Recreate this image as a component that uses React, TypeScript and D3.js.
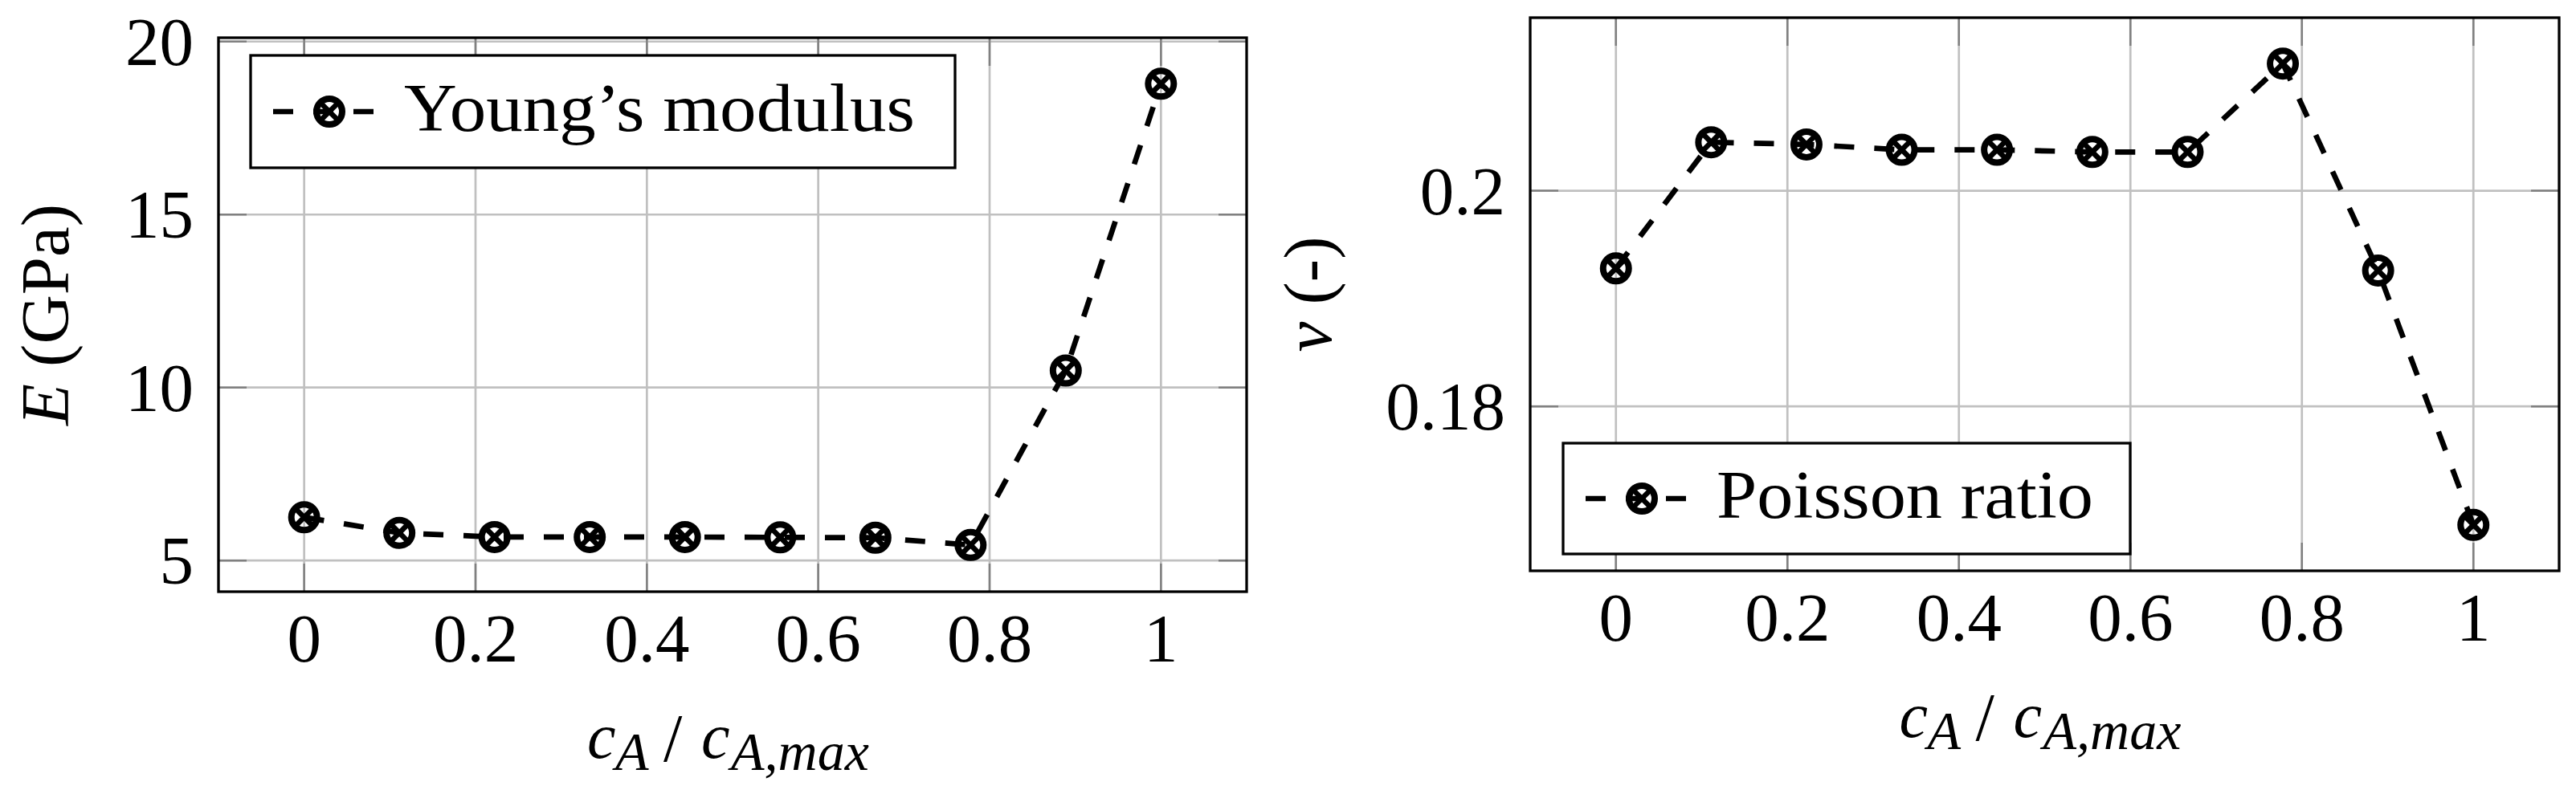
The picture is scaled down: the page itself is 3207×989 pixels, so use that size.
import React from "react";
import * as d3 from "d3";

// ---- data ----
const xValues = [0, 0.1111, 0.2222, 0.3333, 0.4444, 0.5556, 0.6667, 0.7778, 0.8889, 1];
const youngValues = [6.25, 5.8, 5.68, 5.68, 5.68, 5.67, 5.66, 5.45, 10.49, 18.78];
const poissonValues = [0.1928, 0.2045, 0.2043, 0.2038, 0.2038, 0.2036, 0.2036, 0.2118, 0.1926, 0.169];
const xTicks = [0, 0.2, 0.4, 0.6, 0.8, 1];
const xTickLabels = ["0", "0.2", "0.4", "0.6", "0.8", "1"];
const youngTicks = [5, 10, 15, 20];
const youngTickLabels = ["5", "10", "15", "20"];
const poissonTicks = [0.18, 0.2];
const poissonTickLabels = ["0.18", "0.2"];

const FONT = "'Liberation Serif', 'DejaVu Serif', serif";
const FS = 85;

function Marker({ cx, cy }: { cx: number; cy: number }) {
  const r = 16;
  const a = r * 0.7071;
  return (
    <g>
      <circle cx={cx} cy={cy} r={r} fill="none" stroke="#000" strokeWidth={8} />
      <line x1={cx - a} y1={cy - a} x2={cx + a} y2={cy + a} stroke="#000" strokeWidth={6.5} />
      <line x1={cx - a} y1={cy + a} x2={cx + a} y2={cy - a} stroke="#000" strokeWidth={6.5} />
    </g>
  );
}

function XLabel({ cx, y }: { cx: number; y: number }) {
  const common = { fontFamily: FONT, fontStyle: "italic" as const };
  return (
    <g>
      <text x={cx - 181} y={y} fontSize={80} {...common}>c</text>
      <text x={cx - 146} y={y + 15} fontSize={68} {...common}>A</text>
      <text x={cx - 86} y={y + 4} fontSize={84} fontFamily={FONT}>/</text>
      <text x={cx - 39} y={y} fontSize={80} {...common}>c</text>
      <text x={cx - 2} y={y + 15} fontSize={68} {...common}>A,max</text>
    </g>
  );
}

type PanelProps = {
  x0: number; x1: number; y0: number; y1: number;
  yDomain: [number, number];
  values: number[];
  yTicks: number[];
  yTickLabels: string[];
  yLabel: React.ReactNode;
  yLabelOffset: number;
  legendText: string;
  legendTextWidth: number;
  legendBox: { x: number; y: number; w: number; h: number };
};

function Panel(p: PanelProps) {
  const xs = d3.scaleLinear().domain([-0.1, 1.1]).range([p.x0, p.x1]);
  const ys = d3.scaleLinear().domain(p.yDomain).range([p.y1, p.y0]);
  const pts = xValues.map((x, i) => [xs(x), ys(p.values[i])] as [number, number]);
  const line = d3.line()(pts) || "";
  const tickLen = 35;
  const grid = "#c0c0c0";
  const tickC = "#808080";
  const lb = p.legendBox;
  const ly = lb.y + lb.h / 2;
  const cx = (p.x0 + p.x1) / 2;
  const cy = (p.y0 + p.y1) / 2;
  return (
    <g>
      {xTicks.map((t) => (
        <line key={"gx" + t} x1={xs(t)} x2={xs(t)} y1={p.y0} y2={p.y1} stroke={grid} strokeWidth={2.7} />
      ))}
      {p.yTicks.map((t) => (
        <line key={"gy" + t} x1={p.x0} x2={p.x1} y1={ys(t)} y2={ys(t)} stroke={grid} strokeWidth={2.7} />
      ))}
      {xTicks.map((t) => (
        <g key={"tx" + t}>
          <line x1={xs(t)} x2={xs(t)} y1={p.y1} y2={p.y1 - tickLen} stroke={tickC} strokeWidth={2.5} />
          <line x1={xs(t)} x2={xs(t)} y1={p.y0} y2={p.y0 + tickLen} stroke={tickC} strokeWidth={2.5} />
        </g>
      ))}
      {p.yTicks.map((t) => (
        <g key={"ty" + t}>
          <line x1={p.x0} x2={p.x0 + tickLen} y1={ys(t)} y2={ys(t)} stroke={tickC} strokeWidth={2.5} />
          <line x1={p.x1} x2={p.x1 - tickLen} y1={ys(t)} y2={ys(t)} stroke={tickC} strokeWidth={2.5} />
        </g>
      ))}
      <path d={line} fill="none" stroke="#000" strokeWidth={6.7} strokeDasharray="25 25" />
      {pts.map((pt, i) => (
        <Marker key={"m" + i} cx={pt[0]} cy={pt[1]} />
      ))}
      <rect x={p.x0} y={p.y0} width={p.x1 - p.x0} height={p.y1 - p.y0} fill="none" stroke="#000" strokeWidth={3.3} />
      {xTicks.map((t, i) => (
        <text key={"xl" + t} x={xs(t)} y={p.y1 + 87} textAnchor="middle" fontFamily={FONT} fontSize={FS}>
          {xTickLabels[i]}
        </text>
      ))}
      {p.yTicks.map((t, i) => (
        <text key={"yl" + t} x={p.x0 - 31} y={ys(t) + 29} textAnchor="end" fontFamily={FONT} fontSize={FS}>
          {p.yTickLabels[i]}
        </text>
      ))}
      <XLabel cx={cx} y={p.y1 + 207} />
      <text transform={`translate(${p.x0 - p.yLabelOffset},${cy}) rotate(-90)`} textAnchor="middle"
        fontFamily={FONT} fontSize={FS}>
        {p.yLabel}
      </text>
      <rect x={lb.x} y={lb.y} width={lb.w} height={lb.h} fill="#fff" stroke="#000" strokeWidth={3.3} />
      <line x1={lb.x + 28} x2={lb.x + 153} y1={ly} y2={ly} stroke="#000" strokeWidth={6.7} strokeDasharray="25 25" />
      <Marker cx={lb.x + 98} cy={ly} />
      <text x={lb.x + 191} y={ly + 24} fontFamily={FONT} fontSize={FS} textLength={p.legendTextWidth}
        lengthAdjust="spacingAndGlyphs">
        {p.legendText}
      </text>
    </g>
  );
}

export default function App() {
  return (
    <svg width={3207} height={989} style={{ position: "absolute", left: 0, top: 0, background: "#fff" }}>
      <rect x={0} y={0} width={3207} height={989} fill="#fff" />
      <Panel
        x0={272} x1={1552} y0={47} y1={737}
        yDomain={[4.1, 20.11]}
        values={youngValues}
        yTicks={youngTicks}
        yTickLabels={youngTickLabels}
        yLabel={<><tspan fontStyle="italic">E</tspan> (GPa)</>}
        yLabelOffset={187}
        legendText={"Young\u2019s modulus"}
        legendTextWidth={636}
        legendBox={{ x: 312, y: 69, w: 877, h: 140 }}
      />
      <Panel
        x0={1905} x1={3186} y0={22} y1={711}
        yDomain={[0.16474, 0.21606]}
        values={poissonValues}
        yTicks={poissonTicks}
        yTickLabels={poissonTickLabels}
        yLabel={<><tspan fontStyle="italic">{"\u03BD"}</tspan> (-)</>}
        yLabelOffset={248}
        legendText={"Poisson ratio"}
        legendTextWidth={469}
        legendBox={{ x: 1946, y: 552, w: 706, h: 138 }}
      />
    </svg>
  );
}
